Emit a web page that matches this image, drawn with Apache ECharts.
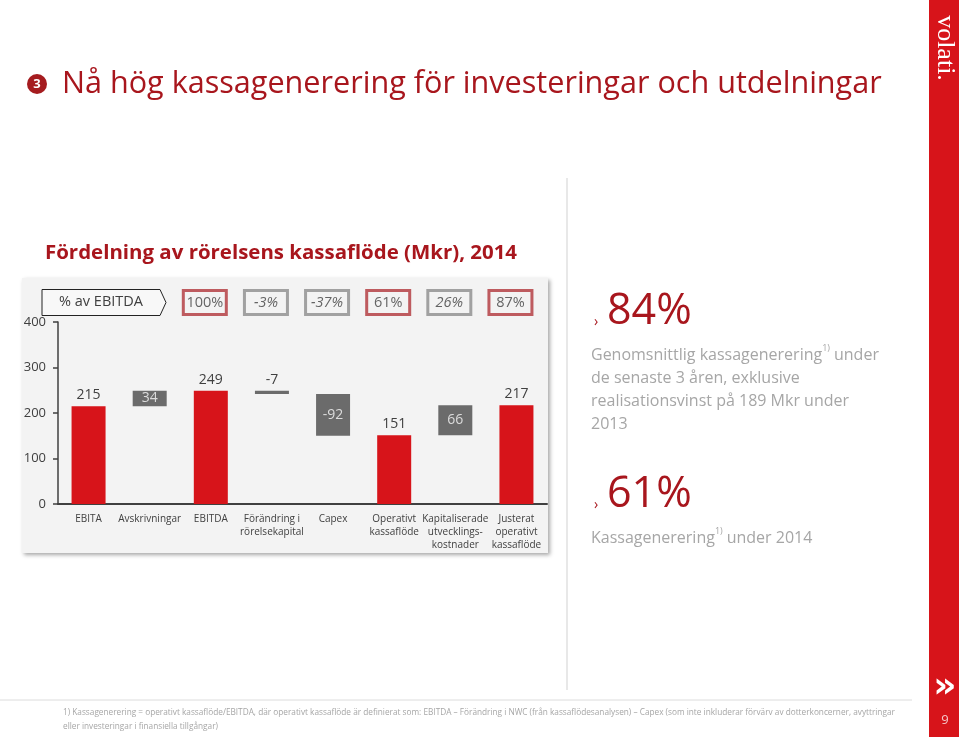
<!DOCTYPE html>
<html>
<head>
<meta charset="utf-8">
<script src="https://cdn.jsdelivr.net/npm/echarts@6/dist/echarts.min.js"></script>
<style>
html,body{margin:0;padding:0;background:#fff;}
#c{width:959px;height:737px;}
</style>
</head>
<body>
<div id="c"></div>
<script>
// ---- data ----
const categories = ['EBITA', 'Avskrivningar', 'EBITDA', 'Förändring i\nrörelsekapital', 'Capex', 'Operativt\nkassaflöde', 'Kapitaliserade\nutvecklings-\nkostnader', 'Justerat\noperativt\nkassaflöde'];
const values = [215, 34, 249, -7, -92, 151, 66, 217];
const isTotal = [true, false, true, false, false, true, false, true];
const pctLabels = ['', '', '100%', '-3%', '-37%', '61%', '26%', '87%'];
const yTicks = [0, 100, 200, 300, 400];

const RED = '#d7141a';
const GRAY = '#6b6b6b';
const DARKRED = '#a8161d';
const TXT = '#404040';
const LIGHT = '#a6a6a6';
const FONT = "'Open Sans', 'Noto Sans', sans-serif";

const mctx = document.createElement('canvas').getContext('2d');
function fit(text, weight, target, style) {
  mctx.font = (style || 'normal') + ' ' + weight + ' 100px ' + FONT;
  return 100 * target / mctx.measureText(text).width;
}

// waterfall geometry (from values)
const bases = [], heights = [];
let run = 0;
values.forEach((v, i) => {
  if (isTotal[i]) { bases.push(0); heights.push(v); run = v; }
  else if (v >= 0) { bases.push(run); heights.push(v); run += v; }
  else { run += v; bases.push(run); heights.push(-v); }
});

const PCT_ROW = 443;

const chart = echarts.init(document.getElementById('c'), null, {renderer: 'canvas'});

const titleText = 'Nå hög kassagenerering för investeringar och utdelningar';
const subText = 'Fördelning av rörelsens kassaflöde (Mkr), 2014';
const titleSize = fit(titleText, 400, 820);
const subSize = fit(subText, 700, 472);
const foot1 = '1) Kassagenerering = operativt kassaflöde/EBITDA, där operativt kassaflöde är definierat som: EBITDA – Förändring i NWC (från kassaflödesanalysen) – Capex (som inte inkluderar förvärv av dotterkoncerner, avyttringar';
const foot2 = 'eller investeringar i finansiella tillgångar)';
const footSize = fit(foot1, 400, 832);

const rightRich = {
  a: {fontSize: 16, fontFamily: FONT, fill: LIGHT, lineHeight: 23},
  s: {fontSize: 9, fontFamily: FONT, fill: LIGHT, verticalAlign: 'top', padding: [0, 4, 8, 0], lineHeight: 23}
};

const graphic = [
  // panel
  {type: 'rect', z: -10, shape: {x: 22, y: 278, width: 526, height: 275},
   style: {fill: '#f3f3f3', shadowBlur: 4, shadowOffsetX: 2, shadowOffsetY: 2, shadowColor: 'rgba(0,0,0,0.35)'}},
  // separator
  {type: 'line', shape: {x1: 567, y1: 178, x2: 567, y2: 690}, style: {stroke: '#e8e8e8', lineWidth: 2}},
  // bottom rule
  {type: 'line', shape: {x1: 0, y1: 700, x2: 912, y2: 700}, style: {stroke: '#dcdcdc', lineWidth: 1}},
  // right red strip
  {type: 'rect', shape: {x: 929, y: 0, width: 30, height: 737}, style: {fill: RED}},
  {type: 'text', x: 945, y: 48, rotation: -Math.PI / 2,
   style: {text: 'volati.', fill: '#fff', font: "26px 'Liberation Serif', 'DejaVu Serif', serif", align: 'center', verticalAlign: 'middle'}},
  {type: 'text', x: 945, y: 688,
   style: {text: '»', fill: '#fff', font: "bold 36px 'DejaVu Sans', sans-serif", align: 'center', verticalAlign: 'middle'}},
  {type: 'text', x: 945, y: 720,
   style: {text: '9', fill: '#f4c6c8', font: '13px ' + FONT, align: 'center', verticalAlign: 'middle'}},
  // title
  {type: 'circle', shape: {cx: 37, cy: 84, r: 10}, style: {fill: '#a51c1f'}},
  {type: 'text', x: 37, y: 84, style: {text: '3', fill: '#fff', font: 'bold 13px ' + FONT, align: 'center', verticalAlign: 'middle'}},
  {type: 'text', x: 62, y: 84, style: {text: titleText, fill: DARKRED, font: titleSize.toFixed(2) + 'px ' + FONT, verticalAlign: 'middle'}},
  {type: 'text', x: 45, y: 253, style: {text: subText, fill: DARKRED, font: 'bold ' + subSize.toFixed(2) + 'px ' + FONT, verticalAlign: 'middle'}},
  // % av EBITDA arrow
  {type: 'polygon', shape: {points: [[42, 289.5], [160, 289.5], [166, 302.5], [160, 315.5], [42, 315.5]]},
   style: {fill: '#f8f8f8', stroke: '#222', lineWidth: 1}},
  {type: 'text', x: 101, y: 302, style: {text: '% av EBITDA', fill: TXT, font: '14.5px ' + FONT, align: 'center', verticalAlign: 'middle'}},
  // right side KPI
  {type: 'text', x: 596, y: 322, style: {text: '›', fill: DARKRED, font: '14px ' + FONT, align: 'center', verticalAlign: 'middle'}},
  {type: 'text', x: 607, y: 312, style: {text: '84%', fill: DARKRED, font: '43px ' + FONT, verticalAlign: 'middle'}},
  {type: 'text', x: 591, y: 344, style: {
    text: '{a|Genomsnittlig kassagenerering}{s|1)}{a|under}\n{a|de senaste 3 åren, exklusive}\n{a|realisationsvinst på 189 Mkr under}\n{a|2013}',
    rich: rightRich}},
  {type: 'text', x: 596, y: 505, style: {text: '›', fill: DARKRED, font: '14px ' + FONT, align: 'center', verticalAlign: 'middle'}},
  {type: 'text', x: 607, y: 495, style: {text: '61%', fill: DARKRED, font: '43px ' + FONT, verticalAlign: 'middle'}},
  {type: 'text', x: 591, y: 527, style: {text: '{a|Kassagenerering}{s|1)}{a|under 2014}', rich: rightRich}},
  // footnote
  {type: 'text', x: 63, y: 713, style: {text: foot1, fill: LIGHT, font: footSize.toFixed(2) + 'px ' + FONT, verticalAlign: 'middle'}},
  {type: 'text', x: 63, y: 727, style: {text: foot2, fill: LIGHT, font: footSize.toFixed(2) + 'px ' + FONT, verticalAlign: 'middle'}}
];

const mainData = heights.map((h, i) => {
  const inside = !isTotal[i] && heights[i] >= 20;
  return {
    value: h,
    itemStyle: {color: isTotal[i] ? RED : GRAY},
    label: {
      show: true,
      position: inside ? 'inside' : 'top',
      distance: 4,
      color: inside ? '#dcdcdc' : TXT,
      fontSize: 14,
      fontFamily: FONT,
      formatter: String(values[i])
    }
  };
});

const pctData = [];
pctLabels.forEach((p, i) => {
  if (!p) return;
  const hi = isTotal[i];
  pctData.push({
    value: [i, PCT_ROW],
    label: {
      show: true,
      position: 'inside',
      offset: [-6, 0],
      formatter: p,
      color: TXT,
      fontSize: 14.5,
      fontFamily: FONT,
      fontStyle: hi ? 'normal' : 'italic',
      borderColor: hi ? '#b0343a' : '#8c8c8c',
      borderWidth: 1.5,
      backgroundColor: 'rgba(0,0,0,0)',
      width: 41,
      height: 18,
      lineHeight: 18,
      align: 'center',
      padding: [3, 1]
    }
  });
});

chart.setOption({
  animation: false,
  backgroundColor: '#fff',
  graphic: graphic,
  grid: {left: 58, right: 412, top: 322, bottom: 233, containLabel: false, outerBoundsMode: 'none'},
  xAxis: {
    type: 'category',
    data: categories,
    axisLine: {lineStyle: {color: TXT, width: 2}},
    axisTick: {show: false},
    axisLabel: {interval: 0, color: TXT, fontSize: 10, fontFamily: FONT, lineHeight: 13, margin: 9, verticalAlign: 'top'}
  },
  yAxis: {
    type: 'value',
    min: yTicks[0],
    max: yTicks[yTicks.length - 1],
    interval: yTicks[1] - yTicks[0],
    splitLine: {show: false},
    axisLine: {show: true, lineStyle: {color: TXT, width: 1.5}},
    axisTick: {show: true, length: 5, lineStyle: {color: TXT, width: 1.5}},
    axisLabel: {color: TXT, fontSize: 13, fontFamily: FONT, margin: 12}
  },
  series: [
    {type: 'bar', stack: 'w', silent: true, barWidth: 34, itemStyle: {color: 'rgba(0,0,0,0)'}, data: bases},
    {type: 'bar', stack: 'w', silent: true, barWidth: 34, data: mainData},
    {type: 'scatter', silent: true, clip: false, symbolSize: 0, data: pctData}
  ]
});
</script>
</body>
</html>
